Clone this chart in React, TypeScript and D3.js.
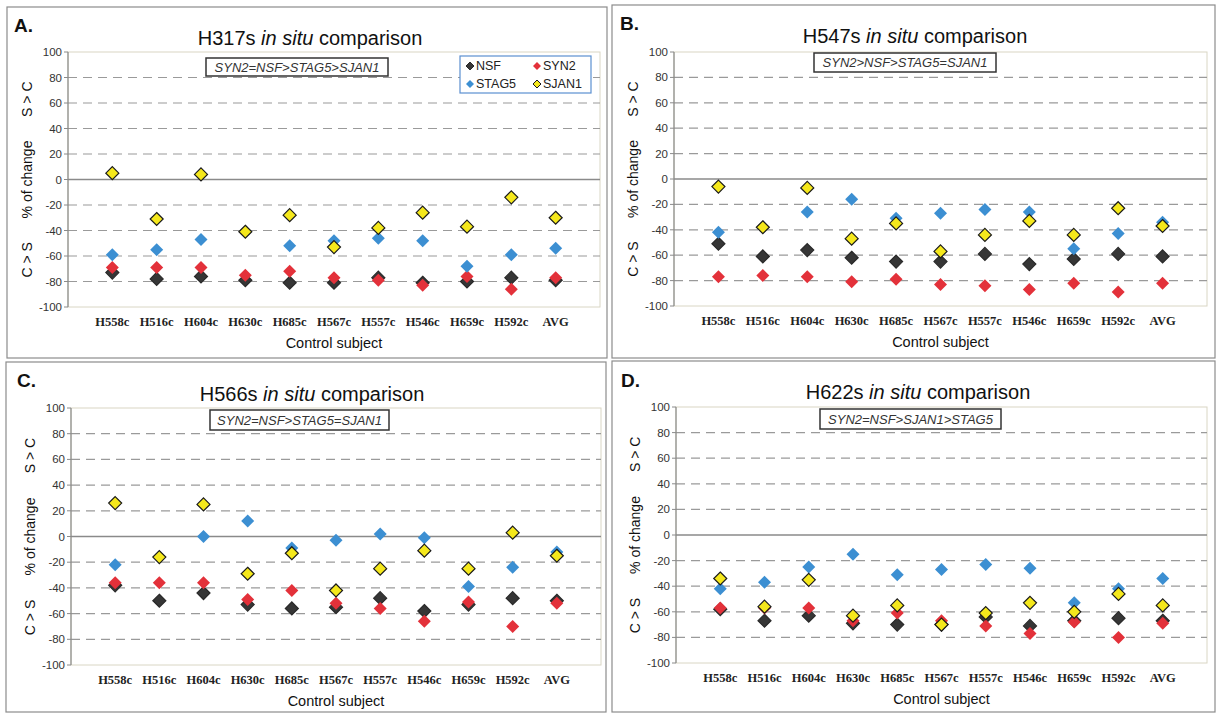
import React from "react";
import * as d3 from "d3";

const categories = ["H558c", "H516c", "H604c", "H630c", "H685c", "H567c", "H557c", "H546c", "H659c", "H592c", "AVG"];
const seriesNames = ["NSF", "SYN2", "STAG5", "SJAN1"];
const yTicks = [100, 80, 60, 40, 20, 0, -20, -40, -60, -80, -100];

// Panel A: H317s
const aNSF = [-73, -78, -76, -79, -81, -81, -77, -81, -80, -77, -79];
const aSYN2 = [-69, -69, -69, -75, -72, -77, -79, -83, -76, -86, -77];
const aSTAG5 = [-59, -55, -47, -41, -52, -48, -46, -48, -68, -59, -54];
const aSJAN1 = [5, -31, 4, -41, -28, -53, -38, -26, -37, -14, -30];

// Panel B: H547s
const bNSF = [-51, -61, -56, -62, -65, -65, -59, -67, -63, -59, -61];
const bSYN2 = [-77, -76, -77, -81, -79, -83, -84, -87, -82, -89, -82];
const bSTAG5 = [-42, -38, -26, -16, -31, -27, -24, -26, -55, -43, -34];
const bSJAN1 = [-6, -38, -7, -47, -35, -57, -44, -33, -44, -23, -37];

// Panel C: H566s
const cNSF = [-38, -50, -44, -53, -56, -55, -48, -58, -53, -48, -50];
const cSYN2 = [-36, -36, -36, -49, -42, -52, -56, -66, -51, -70, -52];
const cSTAG5 = [-22, -16, 0, 12, -9, -3, 2, -1, -39, -24, -12];
const cSJAN1 = [26, -16, 25, -29, -13, -42, -25, -11, -25, 3, -15];

// Panel D: H622s
const dNSF = [-58, -67, -63, -69, -70, -70, -64, -71, -67, -65, -67];
const dSYN2 = [-57, -57, -57, -67, -61, -67, -71, -77, -68, -80, -69];
const dSTAG5 = [-42, -37, -25, -15, -31, -27, -23, -26, -53, -42, -34];
const dSJAN1 = [-34, -56, -35, -63, -55, -70, -61, -53, -60, -46, -55];

const panels = [
  { letter: "A.", subject: "H317s", order: "SYN2=NSF>STAG5>SJAN1", series: [aNSF, aSYN2, aSTAG5, aSJAN1], legend: true,
    frame: [7, 7, 600, 351], plot: [68, 600, 52, 307], titleX: 310, titleY: 45, letterX: 14, letterY: 32, box: [206, 58, 182, 18] },
  { letter: "B.", subject: "H547s", order: "SYN2>NSF>STAG5=SJAN1", series: [bNSF, bSYN2, bSTAG5, bSJAN1], legend: false,
    frame: [612, 5, 603, 353], plot: [674, 1207, 52, 306], titleX: 915, titleY: 43, letterX: 620, letterY: 30, box: [814, 53, 182, 19] },
  { letter: "C.", subject: "H566s", order: "SYN2=NSF>STAG5=SJAN1", series: [cNSF, cSYN2, cSTAG5, cSJAN1], legend: false,
    frame: [6, 362, 600, 350], plot: [71, 601, 408, 665], titleX: 312, titleY: 401, letterX: 17, letterY: 387, box: [210, 410, 179, 20] },
  { letter: "D.", subject: "H622s", order: "SYN2=NSF>SJAN1>STAG5", series: [dNSF, dSYN2, dSTAG5, dSJAN1], legend: false,
    frame: [612, 361, 603, 351], plot: [676, 1207, 407, 663], titleX: 918, titleY: 399, letterX: 621, letterY: 387, box: [820, 409, 181, 20] },
];

const colors: Record<string, string> = { NSF: "#363636", SYN2: "#e3313a", STAG5: "#3c8fd2", SJAN1: "#f5e81c" };
const strokes: Record<string, string> = { NSF: "#2a2a2a", SYN2: "none", STAG5: "none", SJAN1: "#1a1a1a" };

const diamond = (s: number) => `M0,${-s}L${s},0L0,${s}L${-s},0Z`;

function Panel({ p }: { p: (typeof panels)[number] }) {
  const [l, r, t, b] = p.plot;
  const x = d3.scaleLinear().domain([0, categories.length + 1]).range([l, r]);
  const y = d3.scaleLinear().domain([-100, 100]).range([b, t]);
  const [fx, fy, fw, fh] = p.frame;
  const [bx, by, bw, bh] = p.box;
  const sans = "Liberation Sans, Arial, sans-serif";
  return (
    <g>
      <rect x={fx} y={fy} width={fw} height={fh} fill="white" stroke="#8c8c8c" strokeWidth={1.2} />
      <text x={p.letterX} y={p.letterY} fontFamily={sans} fontWeight="bold" fontSize={19} fill="#111">{p.letter}</text>
      <text x={p.titleX} y={p.titleY} textAnchor="middle" fontFamily={sans} fontSize={20} fill="#111">
        {p.subject} <tspan fontStyle="italic">in situ</tspan> comparison
      </text>
      <rect x={l} y={t} width={r - l} height={b - t} fill="none" stroke="#d9d6c4" strokeWidth={1} />
      {yTicks.filter((v) => v !== 100 && v !== -100).map((v) => (
        <line key={v} x1={l} x2={r} y1={y(v)} y2={y(v)} stroke={v === 0 ? "#8a8a8a" : "#9a9a9a"}
          strokeWidth={v === 0 ? 1.3 : 1.2} strokeDasharray={v === 0 ? undefined : "9,6"} />
      ))}
      <line x1={l} x2={l} y1={t} y2={b} stroke="#8a8a8a" strokeWidth={1.2} />
      {yTicks.map((v) => (
        <g key={"t" + v}>
          <line x1={l - 4} x2={l} y1={y(v)} y2={y(v)} stroke="#8a8a8a" />
          <text x={l - 6} y={y(v)} dy="0.35em" textAnchor="end" fontFamily={sans} fontSize={11.5} fill="#333">{v}</text>
        </g>
      ))}
      {categories.map((c, i) => (
        <text key={c} x={x(i + 1)} y={b + 19} textAnchor="middle" fontFamily="Liberation Serif, Times New Roman, serif"
          fontWeight="bold" fontSize={12.5} fill="#222">{c}</text>
      ))}
      <text x={(l + r) / 2} y={b + 41} textAnchor="middle" fontFamily={sans} fontSize={14.5} fill="#111">Control subject</text>
      <text transform={`translate(${l - 41},${y(0)}) rotate(-90)`} dy="0.35em" textAnchor="middle" fontFamily={sans} fontSize={14} fill="#111">% of change</text>
      <text transform={`translate(${l - 41},${y(63)}) rotate(-90)`} dy="0.35em" textAnchor="middle" fontFamily={sans} fontSize={14} fill="#111">{"S > C"}</text>
      <text transform={`translate(${l - 41},${y(-63)}) rotate(-90)`} dy="0.35em" textAnchor="middle" fontFamily={sans} fontSize={14} fill="#111">{"C > S"}</text>
      <rect x={bx} y={by} width={bw} height={bh} fill="white" stroke="#333" strokeWidth={1.5} />
      <text x={bx + bw / 2} y={by + bh / 2} dy="0.35em" textAnchor="middle" fontFamily={sans} fontStyle="italic" fontSize={13} fill="#333">{p.order}</text>
      {p.series.map((vals, si) => (
        <g key={seriesNames[si]}>
          {vals.map((v, i) => (
            <path key={i} transform={`translate(${x(i + 1)},${y(v)})`} d={diamond(6.5)}
              fill={colors[seriesNames[si]]} stroke={strokes[seriesNames[si]]} strokeWidth={1.2} />
          ))}
        </g>
      ))}
      {p.legend && (
        <g>
          <rect x={460} y={56} width={131} height={37} fill="white" stroke="#5b8fd0" strokeWidth={1.2} />
          {seriesNames.map((s, i) => {
            const lx = 470 + (i % 2) * 67;
            const ly = 66 + Math.floor(i / 2) * 18;
            return (
              <g key={s}>
                <path transform={`translate(${lx},${ly})`} d={diamond(4)} fill={colors[s]} stroke={strokes[s]} strokeWidth={1} />
                <text x={lx + 6} y={ly} dy="0.35em" fontFamily={sans} fontSize={12.5} fill="#222">{s}</text>
              </g>
            );
          })}
        </g>
      )}
    </g>
  );
}

export default function App() {
  return (
    <svg width={1217} height={715} style={{ position: "absolute", left: 0, top: 0, background: "white" }}>
      <rect x={0} y={0} width={1217} height={715} fill="white" />
      {panels.map((p) => (
        <Panel key={p.letter} p={p} />
      ))}
    </svg>
  );
}
